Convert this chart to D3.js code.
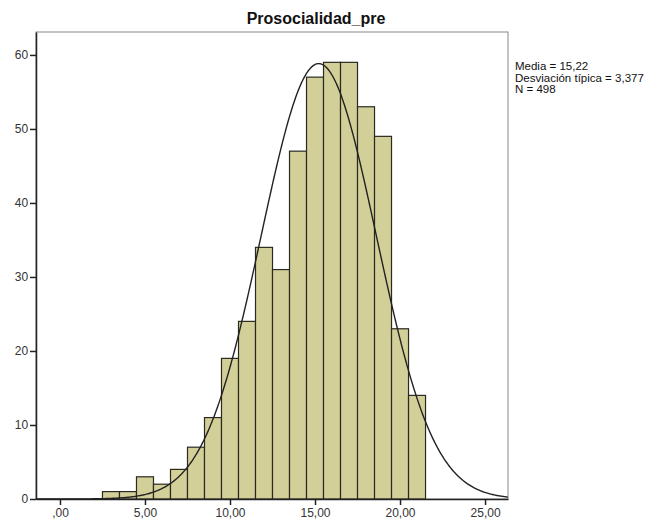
<!DOCTYPE html>
<html>
<head>
<meta charset="utf-8">
<script src="https://cdn.jsdelivr.net/npm/d3@7"></script>
<style>
  body { margin: 0; background: #fff; }
  text { font-family: "Liberation Sans", Arial, sans-serif; }
</style>
</head>
<body>
<div id="chart"></div>
<script>
// bin centres (width 1) and counts
const binCenters = [3, 4, 5, 6, 7, 8, 9, 10, 11, 12, 13, 14, 15, 16, 17, 18, 19, 20, 21];
const counts = [1, 1, 3, 2, 4, 7, 11, 19, 24, 34, 31, 47, 57, 59, 59, 53, 49, 23, 14];
const xTicks = [0, 5, 10, 15, 20, 25];
const yTicks = [0, 10, 20, 30, 40, 50, 60];
const stats = { mean: 15.22, sd: 3.377, n: 498 };
const legendLines = ["Media = 15,22", "Desviación típica = 3,377", "N = 498"];

const width = 654, height = 522;
const margin = { top: 32, right: 146, bottom: 23, left: 36 };
const innerW = width - margin.left - margin.right;
const innerH = height - margin.top - margin.bottom;

const svg = d3.select("#chart").append("svg")
  .attr("width", width)
  .attr("height", height);

const g = svg.append("g")
  .attr("transform", `translate(${margin.left},${margin.top})`);

const x = d3.scaleLinear().domain([-1.41, 26.35]).range([0, innerW]);
const y = d3.scaleLinear().domain([0, 63.1]).range([innerH, 0]);

const fmt = v => v === 0 ? ",00" : d3.format(".2f")(v).replace(".", ",");

// frame
g.append("rect")
  .attr("x", 0).attr("y", 0)
  .attr("width", innerW).attr("height", innerH)
  .attr("fill", "none")
  .attr("stroke", "#888")
  .attr("stroke-width", 1);

// bars
g.selectAll(".bar")
  .data(binCenters)
  .enter()
  .append("rect")
  .attr("class", "bar")
  .attr("x", d => x(d - 0.5))
  .attr("width", d => x(d + 0.5) - x(d - 0.5))
  .attr("y", (d, i) => y(counts[i]))
  .attr("height", (d, i) => innerH - y(counts[i]))
  .attr("fill", "#d3cf98")
  .attr("stroke", "#2a2a22")
  .attr("stroke-width", 1.2);

// normal curve from the stated mean / sd / N
const pdf = v => stats.n * Math.exp(-0.5 * Math.pow((v - stats.mean) / stats.sd, 2)) /
  (stats.sd * Math.sqrt(2 * Math.PI));
const curvePts = d3.range(-1.41, 26.36, 0.05);
g.append("path")
  .datum(curvePts)
  .attr("fill", "none")
  .attr("stroke", "#222")
  .attr("stroke-width", 1.4)
  .attr("d", d3.line().x(d => x(d)).y(d => y(pdf(d))));

// axes
const xAxis = g.append("g")
  .attr("transform", `translate(0,${innerH})`)
  .call(d3.axisBottom(x).tickValues(xTicks).tickFormat(fmt).tickSize(6).tickSizeOuter(0));
const yAxis = g.append("g")
  .call(d3.axisLeft(y).tickValues(yTicks).tickSize(6).tickSizeOuter(0));

[xAxis, yAxis].forEach(a => {
  a.select(".domain").attr("stroke", "#222").attr("stroke-width", 1.5);
  a.selectAll(".tick line").attr("stroke", "#222").attr("stroke-width", 1.5);
  a.selectAll(".tick text")
    .attr("font-size", 12)
    .attr("fill", "#333")
    .style("font-family", "'Liberation Sans', Arial, sans-serif");
});
xAxis.selectAll(".tick text").attr("y", 7).attr("dy", "0.95em");
yAxis.selectAll(".tick text").attr("dx", "0.1em");

// title
svg.append("text")
  .attr("x", 316)
  .attr("y", 24)
  .attr("text-anchor", "middle")
  .attr("font-size", 16)
  .attr("font-weight", "bold")
  .attr("fill", "#111")
  .text("Prosocialidad_pre");

// stats legend
svg.append("g")
  .selectAll("text")
  .data(legendLines)
  .enter()
  .append("text")
  .attr("x", margin.left + innerW + 7)
  .attr("y", (d, i) => 70 + i * 11.5)
  .attr("font-size", 11.5)
  .attr("fill", "#111")
  .text(d => d);
</script>
</body>
</html>
